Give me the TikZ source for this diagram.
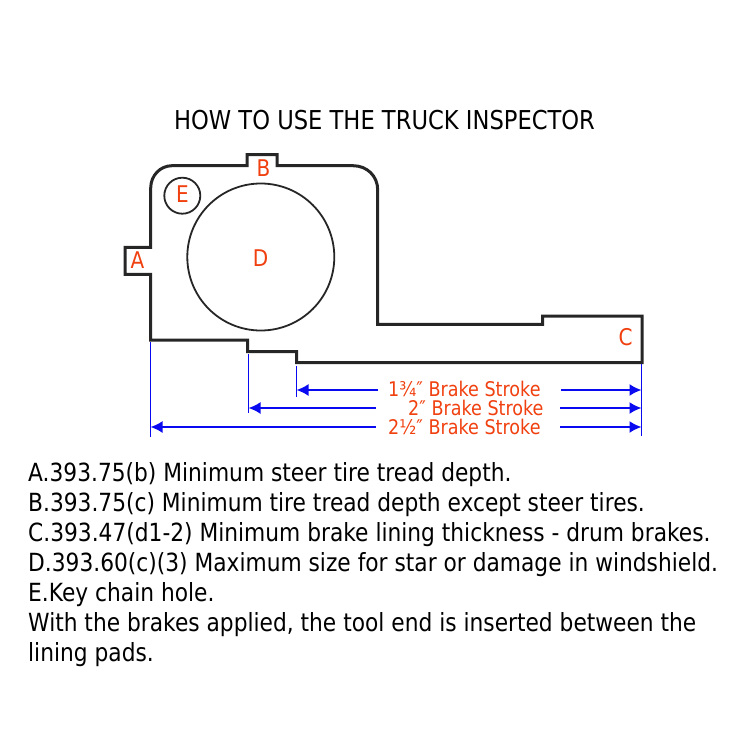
\documentclass[tikz,border=0pt]{standalone}
\usepackage{fontspec}
\setmainfont{DejaVu Sans}[FakeStretch=0.87]
\usetikzlibrary{arrows.meta}
\definecolor{lbl}{HTML}{F0400F}
\definecolor{dim}{HTML}{0A0AF0}
\definecolor{ink}{HTML}{262626}
\tikzset{
  x=1pt,y=-1pt,
  outline/.style={draw=ink,line width=3pt,line join=miter},
  hole/.style={circle,draw=ink,line width=1.8pt,inner sep=0pt},
  letter/.style={text=lbl,font=\fontsize{23}{25}\selectfont,inner sep=0pt},
  stroke/.style={text=lbl,font=\fontsize{20.2}{22}\selectfont,inner sep=0pt,anchor=base west},
  ext/.style={draw=dim,line width=1pt},
  dimarrow/.style={draw=dim,line width=1.8pt,-{Latex[length=12pt,width=12pt]}},
  body/.style={text=black,font=\fontsize{25}{30}\selectfont,inner sep=0pt,anchor=base west},
}
\begin{document}
\begin{tikzpicture}
\useasboundingbox (0,0) rectangle (750,750);
\node[text=black,font=\fontsize{26}{28}\selectfont,inner sep=0pt] (title) at (384.5,120) {HOW TO USE THE TRUCK INSPECTOR};
\draw[outline] (150.7,188) .. controls (150.7,175.8) and (160,165.7) .. (172,165.7)
  -- (247,165.7) -- (247,154.5) -- (277,154.5) -- (277,165.7) -- (353,165.7)
  .. controls (367,165.7) and (377.7,176) .. (377.7,190)
  -- (377.7,324.3) -- (542.7,324.3) -- (542.7,316) -- (642,316) -- (642,362.7)
  -- (296.7,362.7) -- (296.7,351.7) -- (247.7,351.7) -- (247.7,340) -- (150.7,340)
  -- (150.7,274.3) -- (125,274.3) -- (125,247.3) -- (150.7,247.3) -- cycle;
\node[hole,minimum size=147pt] (holeD) at (260.8,257) {};
\node[hole,minimum size=36pt] (holeE) at (182.3,195.7) {};
\node[letter] (A) at (137.5,260.5) {A};
\node[letter] (B) at (263.5,168.5) {B};
\node[letter] (C) at (625.5,337.5) {C};
\node[letter] (D) at (260.5,258.5) {D};
\node[letter] (E) at (182.5,194.5) {E};
\coordinate (e1t) at (150.5,342); \coordinate (e1b) at (150.5,437);
\coordinate (e2t) at (248.5,354); \coordinate (e2b) at (248.5,413);
\coordinate (e3t) at (296.5,366); \coordinate (e3b) at (296.5,397);
\coordinate (e4t) at (641.5,364); \coordinate (e4b) at (641.5,436);
\draw[ext] (e1t) -- (e1b);
\draw[ext] (e2t) -- (e2b);
\draw[ext] (e3t) -- (e3b);
\draw[ext] (e4t) -- (e4b);
\node[stroke] (s1) at (388,396) {1¾″ Brake Stroke};
\node[stroke] (s2) at (408,415) {2″ Brake Stroke};
\node[stroke] (s3) at (388,434) {2½″ Brake Stroke};
\coordinate (a1l) at (378,390); \coordinate (a1r) at (561,390);
\coordinate (a2l) at (376,408); \coordinate (a2r) at (560,408);
\coordinate (a3l) at (376,427); \coordinate (a3r) at (560,427);
\draw[dimarrow] (a1l) -- (e3t|-a1l);
\draw[dimarrow] (a1r) -- (e4t|-a1r);
\draw[dimarrow] (a2l) -- (e2t|-a2l);
\draw[dimarrow] (a2r) -- (e4t|-a2r);
\draw[dimarrow] (a3l) -- (e1t|-a3l);
\draw[dimarrow] (a3r) -- (e4t|-a3r);
\node[body] (t1) at (28,481) {A.393.75(b) Minimum steer tire tread depth.};
\node[body] (t2) at (28,511) {B.393.75(c) Minimum tire tread depth except steer tires.};
\node[body] (t3) at (28,541) {C.393.47(d1-2) Minimum brake lining thickness - drum brakes.};
\node[body] (t4) at (28,571) {D.393.60(c)(3) Maximum size for star or damage in windshield.};
\node[body] (t5) at (28,601) {E.Key chain hole.};
\node[body] (t6) at (28,631) {With the brakes applied, the tool end is inserted between the};
\node[body] (t7) at (28,661) {lining pads.};
\end{tikzpicture}
\end{document}
